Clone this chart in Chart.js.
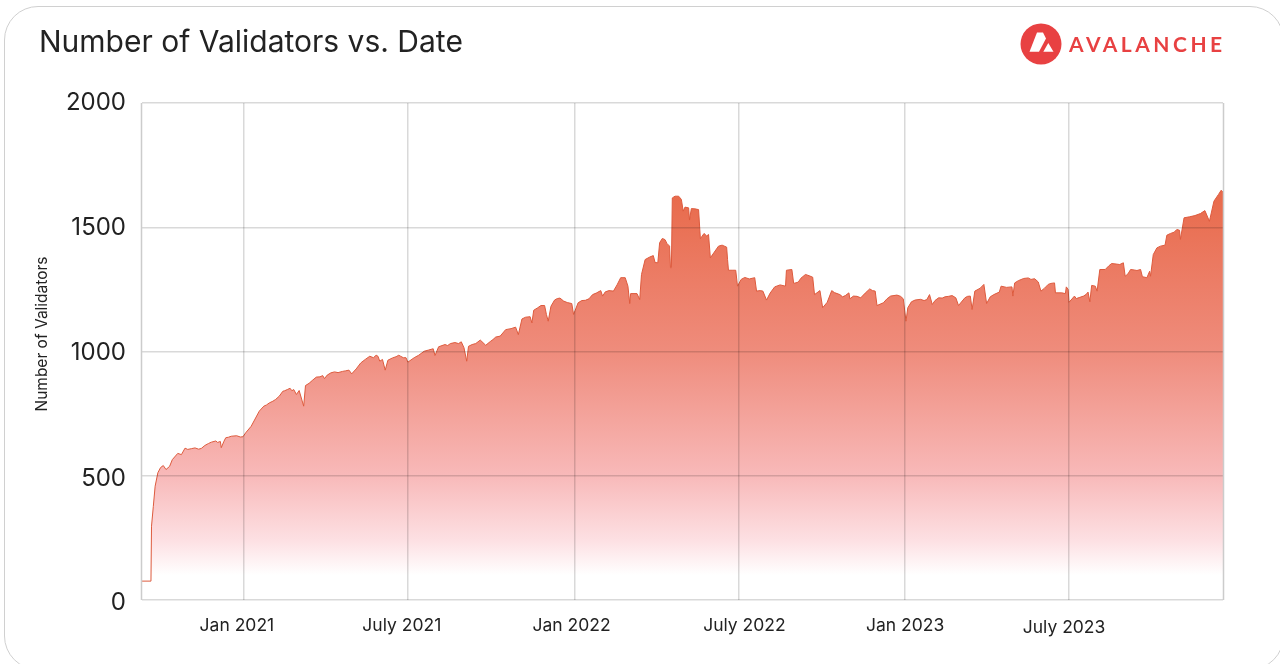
<!DOCTYPE html>
<html>
<head>
<meta charset="utf-8">
<title>Number of Validators vs. Date</title>
<script src="https://cdn.jsdelivr.net/npm/chart.js@4"></script>
<style>
html,body{margin:0;padding:0;background:#fff;width:1280px;height:664px;overflow:hidden}
#card{position:absolute;left:4px;top:6px;width:1280px;height:664px;border:1.5px solid #d0d0d0;border-radius:34px;box-sizing:border-box}
#wrap{position:absolute;left:0;top:0;width:1280px;height:664px}
#logo{position:absolute;left:1020px;top:23px;width:42px;height:42px}
#brand{position:absolute;left:1069px;top:30px;font:bold 21px Lato,sans-serif;letter-spacing:3.5px;color:#e84142;line-height:28px;white-space:nowrap}
</style>
</head>
<body>
<div id="card"></div>
<div id="wrap"><canvas id="c" width="1280" height="664"></canvas></div>
<svg id="logo" viewBox="1020 23 42 42"><circle cx="1041" cy="44" r="20.5" fill="#e84142"/><polygon points="1037,32.5 1043,32.5 1046,38.5 1039,51.7 1029.5,51.7" fill="#fff"/><polygon points="1048.3,43 1053.5,51.7 1043.3,51.7" fill="#fff"/></svg>
<div id="brand">AVALANCHE</div>
<script>
const chartTitle = 'Number of Validators vs. Date';
const yAxisTitle = 'Number of Validators';
// days since 1 Jan 2021
const dayOffsets = [-112.5,-102.6,-102,-100,-98,-95,-92,-89,-86,-82,-79,-73,-69,-65,-62,-58,-54,-50,-47,-43,-39,-36,-31,-29,-26,-25,-22,-20,-17,-14,-8,-4,-1,2,8,17,22,25,28,32,35,39,43,45,48,51,53,55,58,61,66,68,72,76,80,84,87,89,92,96,100,104,109,112,116,119,124,129,134,139,143,146,148,150,153,156,159,164,168,171,173,176,179,181,188,193,199,204,209,211,215,222,225,228,233,237,240,243,246,248,252,256,261,267,272,275,278,283,289,295,300,303,307,311,316,318,320,324,328,332,334,336,339,343,346,349,353,357,362,364,369,373,377,381,385,389,394,396,399,403,408,412,416,421,424,426,427,434,437,439,443,448,452,454,457,459,462,465,467,470,471,472,473,476,480,483,485,487,491,492,494,498,502,504,508,511,513,515,519,524,528,533,534,535,539,543,545,549,553,558,564,566,570,573,577,581,586,592,598,599,605,607,612,615,620,624,628,630,636,639,644,649,652,658,661,664,668,669,673,677,681,686,691,694,697,699,706,710,714,721,725,728,731,733,737,741,747,751,754,757,760,763,767,771,774,778,782,786,789,796,799,802,804,807,813,817,820,824,828,834,836,842,848,849,851,855,861,866,869,873,877,880,884,888,891,895,896,903,907,908,910,911,917,919,923,927,930,932,934,936,940,942,945,951,955,958,963,967,971,973,976,979,983,986,990,992,997,1000,1001,1004,1008,1012,1017,1019,1023,1027,1030,1033,1034,1038,1044,1050,1056,1061,1066,1071,1076,1079,1081];
const validators = [76,76,297,377,458,512,533,541,525,538,565,590,585,611,606,609,612,607,610,622,630,635,640,634,638,613,639,653,655,659,661,656,657,673,699,760,780,785,793,800,807,820,840,842,847,852,842,847,827,843,780,863,872,885,897,898,903,891,905,914,918,915,920,922,925,910,930,954,968,981,975,985,981,961,968,925,965,974,979,985,981,975,975,957,975,985,1001,1006,1011,984,1019,1028,1024,1032,1036,1032,1039,1015,961,1021,1028,1032,1046,1025,1040,1048,1058,1062,1088,1092,1098,1068,1131,1138,1140,1115,1166,1175,1185,1185,1149,1122,1182,1207,1213,1215,1203,1197,1193,1149,1196,1205,1206,1212,1229,1235,1245,1223,1240,1245,1243,1268,1297,1297,1263,1193,1233,1233,1209,1310,1370,1380,1386,1358,1357,1438,1455,1450,1435,1424,1337,1337,1618,1625,1625,1612,1565,1581,1578,1529,1575,1574,1571,1454,1475,1465,1471,1377,1398,1424,1428,1420,1370,1327,1327,1327,1263,1290,1298,1292,1297,1243,1245,1243,1207,1235,1260,1268,1263,1327,1330,1274,1279,1295,1310,1305,1299,1229,1245,1176,1198,1245,1237,1229,1220,1225,1236,1212,1223,1222,1216,1235,1252,1245,1243,1185,1196,1212,1223,1227,1222,1212,1122,1176,1200,1207,1210,1205,1209,1229,1189,1205,1216,1215,1220,1222,1225,1216,1185,1216,1222,1223,1169,1243,1255,1270,1193,1220,1229,1239,1263,1258,1260,1223,1276,1285,1294,1296,1290,1293,1280,1243,1255,1270,1274,1276,1236,1236,1233,1260,1250,1198,1223,1213,1218,1223,1230,1239,1200,1266,1263,1243,1330,1330,1345,1354,1352,1350,1357,1303,1312,1330,1328,1326,1330,1301,1297,1323,1303,1390,1417,1424,1428,1468,1475,1480,1491,1488,1451,1538,1542,1547,1555,1567,1524,1605,1632,1649,1641];
const tickDays = [0,181,365,546,730,911];
const tickLabels = ['Jan 2021','July 2021','Jan 2022','July 2022','Jan 2023','July 2023'];
const yTicks = [0,500,1000,1500,2000];

const points = dayOffsets.map((d,i)=>({x:d,y:validators[i]}));
const xShift = [[-7,0],[-6,0],[-3,0],[6,0],[0,0],[-5,2]];
const yShift = [[0,3],[0,3],[0,1],[0,1],[0,0]];
const grid = 'rgba(0,0,0,0.15)';

const nudge = {
  id:'nudge',
  beforeDraw(chart){
    for (const [id,shifts] of [['x',xShift],['y',yShift]]) {
      const s = chart.scales[id];
      const items = s.getLabelItems(chart.chartArea);
      if (items._done) continue;
      items.forEach((it,i)=>{
        it.options.translation[0]+=shifts[i][0];
        it.options.translation[1]+=shifts[i][1];
      });
      items._done = true;
    }
  },
  afterDraw(chart){
    const {ctx,chartArea:a} = chart;
    ctx.save();
    ctx.strokeStyle = '#cccccc';
    ctx.lineWidth = 1.5;
    ctx.beginPath();
    ctx.moveTo(a.right+.5,a.top); ctx.lineTo(a.right+.5,a.bottom);
    ctx.moveTo(a.left-.5,a.top); ctx.lineTo(a.left-.5,a.bottom);
    ctx.stroke();
    ctx.translate(42,334);
    ctx.rotate(-Math.PI/2);
    ctx.font = '15.5px Inter, sans-serif';
    ctx.fillStyle = '#222';
    ctx.textAlign = 'center';
    ctx.textBaseline = 'middle';
    ctx.fillText(yAxisTitle,0,0);
    ctx.restore();
  }
};

new Chart(document.getElementById('c'),{
  type:'line',
  data:{datasets:[{
    data:points,
    parsing:false,
    borderColor:'#dd5a3d',
    borderWidth:1,
    pointRadius:0,
    tension:0,
    fill:'origin',
    backgroundColor(ctx){
      const a = ctx.chart.chartArea;
      if(!a) return 'transparent';
      const g = ctx.chart.ctx.createLinearGradient(0,a.top,0,a.bottom);
      g.addColorStop(0,'#e76240');
      g.addColorStop(0.18,'#e86a4b');
      g.addColorStop(0.50,'#ef8c7c');
      g.addColorStop(0.75,'#f8b9b9');
      g.addColorStop(0.88,'#fde0e3');
      g.addColorStop(0.95,'#ffffff');
      g.addColorStop(1,'#ffffff');
      return g;
    }
  }]},
  plugins:[nudge],
  options:{
    responsive:false,
    animation:false,
    layout:{padding:{left:39,right:57,top:0,bottom:0}},
    plugins:{
      legend:{display:false},
      tooltip:{enabled:false},
      title:{display:true,text:chartTitle,align:'start',color:'#222',
        font:{family:'Inter, sans-serif',size:30,weight:'400'},
        padding:{top:25,bottom:42}}
    },
    scales:{
      x:{type:'linear',min:-112.5,max:1081,
        afterBuildTicks(s){ s.ticks = tickDays.map(v=>({value:v})); },
        afterFit(s){ s.height = 64; },
        grid:{color:grid,lineWidth:1.5,z:1,drawTicks:false},
        border:{display:false},
        ticks:{autoSkip:false,maxRotation:0,padding:15,color:'#222',
          font:{family:'Inter, sans-serif',size:17.5},
          callback:(v)=>tickLabels[tickDays.indexOf(v)]}
      },
      y:{min:0,max:2000,
        afterBuildTicks(s){ s.ticks = yTicks.map(v=>({value:v})); },
        afterFit(s){ s.width = 103; },
        grid:{color:grid,lineWidth:1.5,z:1,drawTicks:false},
        border:{display:false},
        ticks:{padding:16,color:'#222',font:{family:'Inter, sans-serif',size:24},
          callback:(v)=>String(v)}
      }
    }
  }
});
</script>
</body>
</html>
